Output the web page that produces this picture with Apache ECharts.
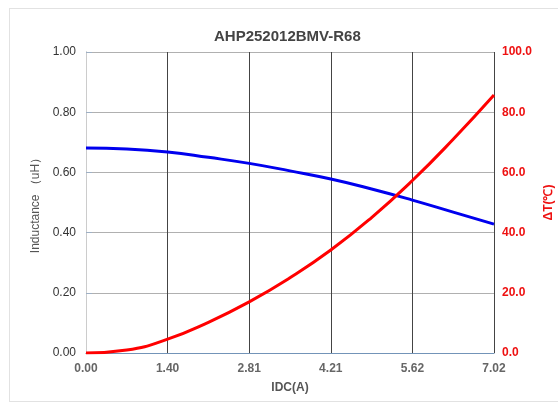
<!DOCTYPE html>
<html>
<head>
<meta charset="utf-8">
<script src="https://cdn.jsdelivr.net/npm/echarts@6/dist/echarts.min.js"></script>
<style>
html,body{margin:0;padding:0;background:#fff;}
#frame{position:absolute;left:9px;top:8px;width:600px;height:392px;border:1px solid #e2e2e2;}
#chart{position:absolute;left:0;top:0;width:558px;height:403px;}
</style>
</head>
<body>
<div id="frame"></div>
<div id="chart"></div>
<script>
const title = "AHP252012BMV-R68";
const idc = [0, 0.702, 1.404, 2.106, 2.808, 3.51, 4.212, 4.914, 5.616, 6.318, 7.02];
const inductance = [0.681, 0.678, 0.668, 0.650, 0.630, 0.605, 0.578, 0.545, 0.508, 0.468, 0.428];
const deltaT = [0, 1.0, 4.6, 10.2, 17.0, 25.0, 34.2, 45.0, 57.3, 71.0, 85.7];
const xMax = 7.02;
const xStep = 1.404;

const chart = echarts.init(document.getElementById('chart'), null, {renderer: 'canvas'});
const fam = 'Arial, "Liberation Sans", sans-serif';
chart.setOption({
  animation: false,
  backgroundColor: 'transparent',
  title: {
    text: title, left: 209, top: 24,
    textStyle: {fontFamily: fam, fontSize: 15, fontWeight: 'bold', color: '#444'}
  },
  grid: {left: 86, right: 64, top: 52, bottom: 50, containLabel: false, outerBoundsMode: 'none'},
  xAxis: [{
    type: 'value', min: 0, max: xMax, interval: xStep,
    name: 'IDC(A)', nameLocation: 'middle', nameGap: 29,
    nameTextStyle: {fontFamily: fam, fontSize: 12, fontWeight: 'bold', color: '#555'},
    axisLine: {show: true, lineStyle: {color: '#cccccc'}},
    axisTick: {show: false},
    axisLabel: {fontFamily: fam, fontSize: 12, fontWeight: 'bold', color: '#666', margin: 10,
      showMaxLabel: true,
      formatter: v => v.toFixed(2)},
    splitLine: {show: true, lineStyle: {color: '#444', width: 1}}
  }, {
    type: 'value', position: 'top', min: 0, max: xMax,
    axisLine: {show: true, lineStyle: {color: '#7394b8'}},
    axisTick: {show: false}, axisLabel: {show: false}, splitLine: {show: false}
  }],
  yAxis: [{
    type: 'value', min: 0, max: 1, interval: 0.2,
    name: 'Inductance （uH）', nameLocation: 'middle', nameGap: 40, nameRotate: 90,
    nameTextStyle: {fontFamily: fam, fontSize: 12, color: '#555'},
    axisLine: {show: true, lineStyle: {color: '#bbbbbb'}},
    axisTick: {show: false},
    axisLabel: {fontFamily: fam, fontSize: 12, color: '#333', margin: 10, formatter: v => v.toFixed(2)},
    splitLine: {show: true, lineStyle: {color: '#b0b0b0', width: 1}}
  }, {
    type: 'value', min: 0, max: 100, interval: 20, position: 'right',
    name: 'ΔT(℃)', nameLocation: 'middle', nameGap: 46, nameRotate: 90,
    nameTextStyle: {fontFamily: fam, fontSize: 12, fontWeight: 'bold', color: '#ee1111'},
    axisLine: {show: true, lineStyle: {color: '#cccccc'}},
    axisTick: {show: true, length: 6, lineStyle: {color: '#9fb0c4'}},
    axisLabel: {fontFamily: fam, fontSize: 12, fontWeight: 'bold', color: '#ee1111', margin: 8, formatter: v => v.toFixed(1)},
    splitLine: {show: false}
  }],
  series: [{
    name: 'Inductance', type: 'line', xAxisIndex: 0, yAxisIndex: 0,
    data: idc.map((x, i) => [x, inductance[i]]),
    smooth: true, showSymbol: false,
    lineStyle: {color: '#0000ee', width: 3}
  }, {
    name: 'ΔT', type: 'line', xAxisIndex: 0, yAxisIndex: 1,
    data: idc.map((x, i) => [x, deltaT[i]]),
    smooth: true, showSymbol: false,
    lineStyle: {color: '#ff0000', width: 3}
  }]
});
</script>
</body>
</html>
